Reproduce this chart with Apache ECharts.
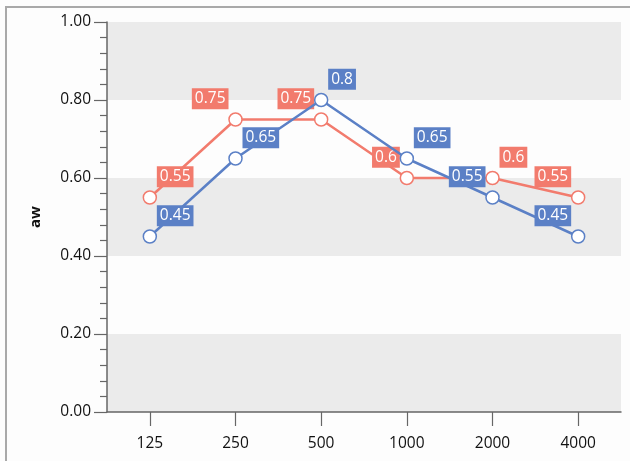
<!DOCTYPE html>
<html>
<head>
<meta charset="utf-8">
<script src="https://cdn.jsdelivr.net/npm/echarts@6/dist/echarts.min.js"></script>
<style>
  html, body { margin:0; padding:0; background:#fdfdfd; }
  #frame { position:absolute; left:5px; top:6px; width:700px; height:600px; border-top:2px solid #a9a9a9; border-left:2px solid #a9a9a9; }
  #main { position:absolute; left:0; top:0; width:630px; height:461px; }
</style>
</head>
<body>
<div id="frame"></div>
<div id="main"></div>
<script>
const categories = ['125', '250', '500', '1000', '2000', '4000'];
const redValues = [0.55, 0.75, 0.75, 0.6, 0.6, 0.55];
const blueValues = [0.45, 0.65, 0.8, 0.65, 0.55, 0.45];
const yAxisName = 'aw';

// label side per point (r = right of point, l = left of point)
const redLabelSide = ['r', 'l', 'l', 'l', 'r', 'l'];
const blueLabelSide = ['r', 'r', 'r', 'r', 'l', 'l'];

const RED = '#f27b6d';
const BLUE = '#5b80c6';
const FONT = 'Open Sans';

function buildData(values, sides, color) {
  return values.map((v, i) => ({
    value: v,
    label: {
      show: true,
      position: 'top',
      distance: 3,
      align: sides[i] === 'r' ? 'left' : 'right',
      verticalAlign: 'bottom',
      offset: [sides[i] === 'r' ? 7 : -7, 0],
      color: '#ffffff',
      backgroundColor: color,
      fontFamily: FONT,
      fontSize: 15.5,
      lineHeight: 17,
      padding: [2, 3, 2, 3],
      formatter: (p) => String(p.value)
    }
  }));
}

const chart = echarts.init(document.getElementById('main'), null, { renderer: 'canvas' });
chart.setOption({
  animation: false,
  backgroundColor: 'transparent',
  grid: { left: 107, top: 22, right: 9, bottom: 49, containLabel: false },
  xAxis: {
    type: 'category',
    data: categories,
    boundaryGap: true,
    axisLine: { lineStyle: { color: '#666', width: 1.5 } },
    axisTick: { show: true, alignWithLabel: true, length: 14, lineStyle: { color: '#666', width: 1.2 } },
    axisLabel: { color: '#111', fontFamily: FONT, fontSize: 15.5, margin: 24 },
    splitLine: { show: false }
  },
  yAxis: {
    type: 'value',
    min: 0,
    max: 1,
    interval: 0.2,
    name: yAxisName,
    nameLocation: 'middle',
    nameGap: 64,
    nameTextStyle: { color: '#111', fontFamily: FONT, fontSize: 15, fontWeight: 'bold' },
    axisLine: { show: true, lineStyle: { color: '#666', width: 1.5 } },
    axisTick: { show: true, length: 13, lineStyle: { color: '#666', width: 1.2 } },
    minorTick: { show: true, splitNumber: 5, length: 7, lineStyle: { color: '#666', width: 1.2 } },
    axisLabel: { color: '#111', fontFamily: FONT, fontSize: 15.5, margin: 16, formatter: (v) => v.toFixed(2) },
    splitLine: { show: false },
    splitArea: { show: true, areaStyle: { color: ['#ebebeb', '#fdfdfd'] } }
  },
  series: [
    {
      type: 'line',
      data: buildData(redValues, redLabelSide, RED),
      symbol: 'circle',
      symbolSize: 13,
      itemStyle: { color: '#ffffff', borderColor: RED, borderWidth: 1.5 },
      lineStyle: { color: RED, width: 2.5 },
      z: 2
    },
    {
      type: 'line',
      data: buildData(blueValues, blueLabelSide, BLUE),
      symbol: 'circle',
      symbolSize: 13,
      itemStyle: { color: '#ffffff', borderColor: BLUE, borderWidth: 1.5 },
      lineStyle: { color: BLUE, width: 2.5 },
      z: 3
    }
  ]
});
</script>
</body>
</html>
